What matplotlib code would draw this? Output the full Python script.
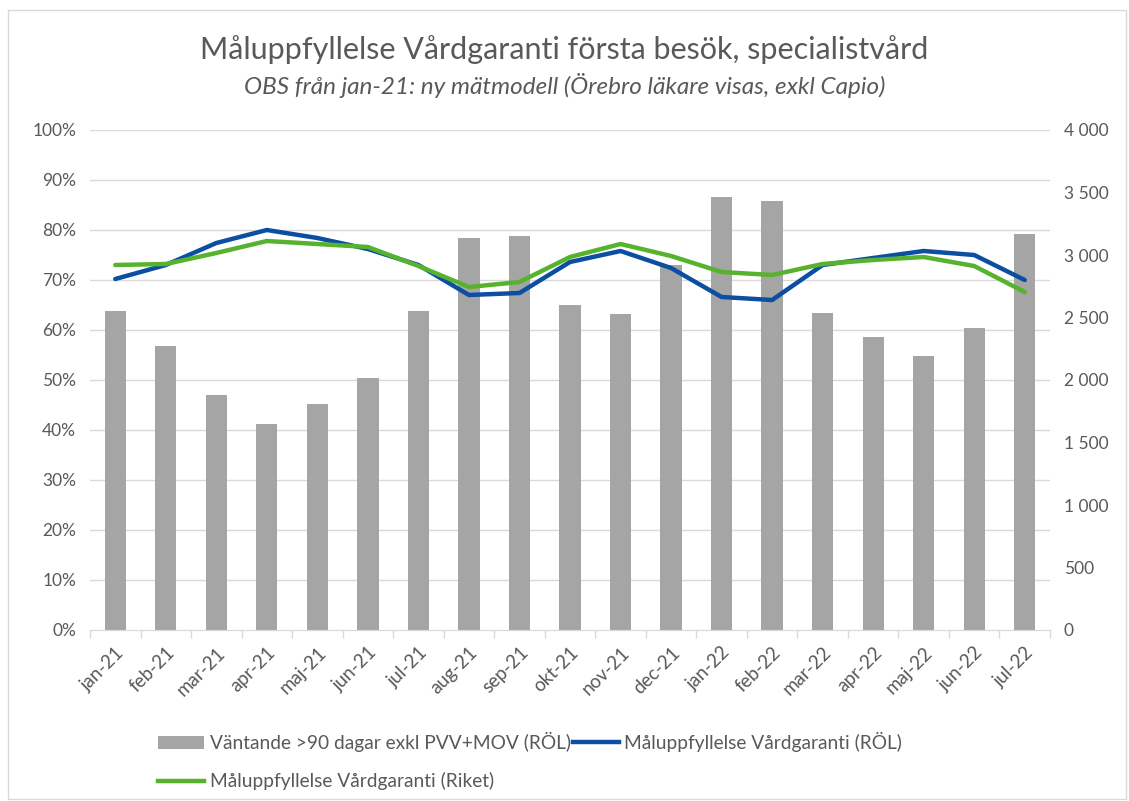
import matplotlib
matplotlib.use("Agg")
import matplotlib.pyplot as plt
from matplotlib.ticker import FuncFormatter, MultipleLocator
from matplotlib.patches import Rectangle, Patch
from matplotlib.lines import Line2D
import numpy as np

months = ["jan-21", "feb-21", "mar-21", "apr-21", "maj-21", "jun-21", "jul-21",
          "aug-21", "sep-21", "okt-21", "nov-21", "dec-21", "jan-22", "feb-22",
          "mar-22", "apr-22", "maj-22", "jun-22", "jul-22"]
waiting = [2550, 2275, 1880, 1645, 1810, 2015, 2555, 3140, 3155, 2600, 2530,
           2920, 3465, 3435, 2540, 2345, 2195, 2415, 3170]
rol = [70.2, 73.0, 77.4, 80.0, 78.4, 76.2, 73.0, 67.0, 67.4, 73.6, 75.8, 72.4,
       66.6, 66.0, 73.0, 74.4, 75.8, 75.0, 70.0]
riket = [73.0, 73.2, 75.4, 77.8, 77.2, 76.6, 72.8, 68.6, 69.6, 74.6, 77.2, 74.8,
         71.6, 71.0, 73.2, 74.0, 74.6, 72.8, 67.6]

title = "Måluppfyllelse Vårdgaranti första besök, specialistvård"
subtitle = "OBS från jan-21: ny mätmodell (Örebro läkare visas, exkl Capio)"
lbl_bar = "Väntande >90 dagar exkl PVV+MOV (RÖL)"
lbl_rol = "Måluppfyllelse Vårdgaranti (RÖL)"
lbl_riket = "Måluppfyllelse Vårdgaranti (Riket)"

plt.rcParams['font.family'] = ['Lato', 'DejaVu Sans']
txt = "#595959"
gridc = "#d9d9d9"
barc = "#a5a5a5"
bluec = "#0b4ea2"
greenc = "#57b22e"

fig = plt.figure(figsize=(11.29, 8.01), dpi=100)
fig.patches.append(Rectangle((0.007, 0.003), 0.99, 0.985, transform=fig.transFigure,
                             fill=False, edgecolor="#d9d9d9", linewidth=1))
ax = fig.add_axes([90/1129, 1-630/801, 960/1129, 500/801])
ax2 = ax.twinx()

x = np.arange(len(months))
ax2.bar(x, waiting, width=0.42, color=barc, zorder=2)
ax.set_zorder(ax2.get_zorder() + 1)
ax.patch.set_visible(False)
ax.plot(x, rol, color=bluec, linewidth=3.2, solid_capstyle='round', zorder=3)
ax.plot(x, riket, color=greenc, linewidth=3.2, solid_capstyle='round', zorder=4)

ax.set_xlim(-0.5, len(months) - 0.5)
ax.set_ylim(0, 100)
ax2.set_ylim(0, 4000)
ax.yaxis.set_major_locator(MultipleLocator(10))
ax2.yaxis.set_major_locator(MultipleLocator(500))
ax.yaxis.set_major_formatter(FuncFormatter(lambda v, p: f"{int(round(v))}%"))
ax2.yaxis.set_major_formatter(FuncFormatter(lambda v, p: "0" if v == 0 else f"{int(v):,}".replace(",", " ")))

for v in range(10, 101, 10):
    ax2.axhline(v * 40, color=gridc, linewidth=1, zorder=0)

for a in (ax, ax2):
    for s in a.spines.values():
        s.set_visible(False)
    a.tick_params(axis='y', length=0, labelsize=12.5, labelcolor=txt, pad=10)
ax2.spines['bottom'].set_visible(True)
ax2.spines['bottom'].set_color(gridc)
ax.set_xticks(x)
ax.set_xticklabels(months, rotation=45, ha='right', rotation_mode='anchor',
                   fontsize=13.5, color=txt)
ax.set_xticks(np.arange(-0.5, len(months)), minor=True)
ax.tick_params(axis='x', which='major', length=0, pad=10)
ax.tick_params(axis='x', which='minor', length=6, color=gridc, width=1)
ax.spines['bottom'].set_visible(True)
ax.spines['bottom'].set_color(gridc)

fig.text(0.5, 1-50/801, title, ha='center', va='center', fontsize=22, color=txt)
fig.text(0.5, 1-86/801, subtitle, ha='center', va='center', fontsize=17.5,
         color=txt, style='italic')

handles = [Patch(facecolor=barc, edgecolor='none'),
           Line2D([], [], color=greenc, linewidth=3.2),
           Line2D([], [], color=bluec, linewidth=3.2)]
labels = [lbl_bar, lbl_riket, lbl_rol]
fig.legend(handles, labels, ncol=2, loc='upper left',
           bbox_to_anchor=(158/1129, 1-732/801), frameon=False, fontsize=13.8,
           labelcolor=txt, handlelength=2.4, handletextpad=0.3, columnspacing=0.1,
           labelspacing=1.05, borderaxespad=0, borderpad=0)

fig.savefig("out.png", dpi=100)
